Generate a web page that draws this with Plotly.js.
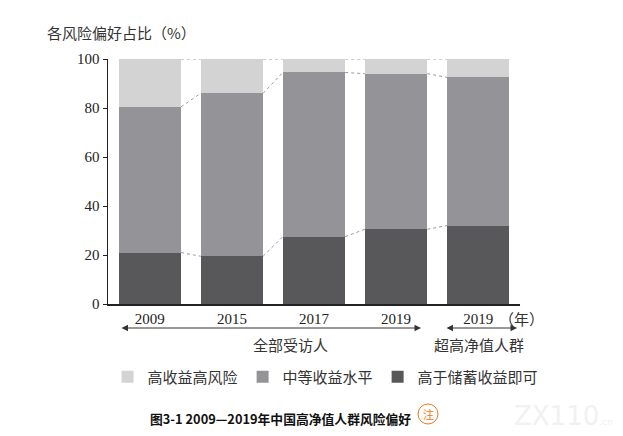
<!DOCTYPE html>
<html>
<head>
<meta charset="utf-8">
<script src="https://cdn.plot.ly/plotly-3.0.1.min.js"></script>
<style>
  html, body { margin: 0; padding: 0; background: #fff; }
  #chart { width: 623px; height: 436px; }
</style>
</head>
<body>
<div id="chart"></div>
<script>
// data (percent)
const positions = [0, 1, 2, 3, 4];
const tickLabels = ["2009", "2015", "2017", "2019", "2019"];
const savingsOnly = [21, 19.5, 27.5, 30.5, 32];     // 高于储蓄收益即可
const mediumReturn = [59.5, 66.5, 67, 63.5, 60.5];  // 中等收益水平
const highReturn = [19.5, 14, 5.5, 6, 7.5];         // 高收益高风险

const seriesNames = ["高于储蓄收益即可", "中等收益水平", "高收益高风险"];
const seriesColors = ["#58585a", "#949397", "#d3d3d3"];

const barWidth = 0.76;

// plot area in pixels, used to place the loose texts
const L = 108, R = 520, T = 59, B = 304;
function px(x) { return (x - L) / (R - L); }
function py(y) { return (B - y) / (B - T); }

const serif = "Liberation Serif, Noto Sans CJK SC, serif";
const cjk = "Noto Sans CJK SC, sans-serif";

const stacks = [savingsOnly, mediumReturn, highReturn];
const traces = [];
for (let s = 0; s < 3; s++) {
    traces.push({
        x: positions,
        y: stacks[s],
        name: seriesNames[s],
        type: "bar",
        width: barWidth,
        marker: { color: seriesColors[s], line: { width: 0 } },
        hoverinfo: "y",
    });
}

// dashed connectors between neighbouring bars at every stack boundary
const cx = [], cy = [];
for (let i = 0; i < positions.length - 1; i++) {
    let a = 0, b = 0;
    for (let s = 0; s < 3; s++) {
        a += stacks[s][i];
        b += stacks[s][i + 1];
        cx.push(positions[i] + barWidth / 2, positions[i + 1] - barWidth / 2, null);
        cy.push(a, b, null);
    }
}
traces.push({
    x: cx,
    y: cy,
    type: "scatter",
    mode: "lines",
    line: { color: "#999", width: 1, dash: "3px,3px" },
    showlegend: false,
    hoverinfo: "skip",
    connectgaps: false,
});

// centre of the little "注" badge
const noteX = 428, noteY = 414;

const annotations = [
    { text: "各风险偏好占比（%）", x: px(45), y: py(32), xanchor: "left",
      font: { family: cjk, size: 15, color: "#333" } },
    { text: "（年）", x: px(497), y: py(318), xanchor: "left",
      font: { family: cjk, size: 15, color: "#333" } },
    { text: "全部受访人", x: px(290), y: py(344),
      font: { family: cjk, size: 15, color: "#333" } },
    { text: "超高净值人群", x: px(479), y: py(344),
      font: { family: cjk, size: 15, color: "#333" } },
    { text: "<b>图3-1 2009—2019年中国高净值人群风险偏好</b>", x: px(148), y: py(418), xanchor: "left",
      font: { family: cjk, size: 12.8, color: "#111" } },
    { text: "注", x: px(noteX), y: py(noteY), borderpad: 0,
      font: { family: cjk, size: 11, color: "#f07a1a" } },
    { text: "ZX110<span style='font-size:9px'>.cn</span>", x: px(512), y: py(416), xanchor: "left",
      font: { family: "DejaVu Sans", size: 26, color: "#f1f1f1" } },
    // double arrows
    { text: "", x: px(421), y: py(328), ax: px(120), ay: py(328),
      axref: "paper", ayref: "paper", showarrow: true,
      arrowhead: 2, arrowside: "end+start", arrowsize: 1.3, arrowwidth: 1, arrowcolor: "#333" },
    { text: "", x: px(517), y: py(328), ax: px(445), ay: py(328),
      axref: "paper", ayref: "paper", showarrow: true,
      arrowhead: 2, arrowside: "end+start", arrowsize: 1.3, arrowwidth: 1, arrowcolor: "#333" },
].map(function (a) {
    return Object.assign({ xref: "paper", yref: "paper", showarrow: false,
                           xanchor: "center", yanchor: "middle" }, a);
});

const layout = {
    width: 623,
    height: 436,
    margin: { l: L, r: 623 - R, t: T, b: 436 - B },
    paper_bgcolor: "#fff",
    plot_bgcolor: "#fff",
    barmode: "stack",
    showlegend: true,
    legend: {
        orientation: "h",
        traceorder: "reversed",
        // slightly left of the plot so the legend may use the full width on one row
        x: -0.001, y: py(377), xanchor: "left", yanchor: "middle",
        font: { family: cjk, size: 15, color: "#333" },
    },
    xaxis: {
        range: [-0.51, 4.51],
        tickvals: positions,
        ticktext: tickLabels,
        showgrid: false,
        zeroline: false,
        showline: true,
        linecolor: "#222",
        linewidth: 1.5,
        ticks: "",
        tickfont: { family: serif, size: 15, color: "#222" },
        fixedrange: true,
    },
    yaxis: {
        range: [0, 100],
        tickvals: [0, 20, 40, 60, 80, 100],
        showgrid: false,
        zeroline: false,
        showline: true,
        linecolor: "#222",
        linewidth: 1.5,
        ticks: "outside",
        ticklen: 4,
        tickcolor: "#222",
        tickfont: { family: serif, size: 15, color: "#222" },
        fixedrange: true,
    },
    shapes: [
        { type: "circle", xref: "paper", yref: "paper",
          x0: px(noteX - 10), x1: px(noteX + 10), y0: py(noteY - 10), y1: py(noteY + 10),
          line: { color: "#f07a1a", width: 1 } },
    ],
    annotations: annotations,
};

Plotly.newPlot("chart", traces, layout, { displayModeBar: false, staticPlot: true });
</script>
</body>
</html>
